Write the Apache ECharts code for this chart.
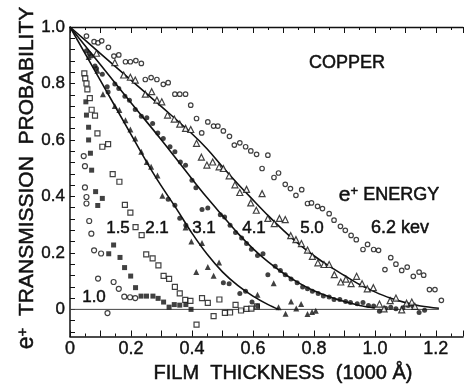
<!DOCTYPE html>
<html>
<head>
<meta charset="utf-8">
<script src="https://cdn.jsdelivr.net/npm/echarts@6/dist/echarts.min.js"></script>
<style>
  html, body { margin: 0; padding: 0; background: #fff; }
  #chart { width: 466px; height: 386px; }
</style>
</head>
<body>
<div id="chart"></div>
<script>
// Positron transmission through copper films: probability vs film thickness (1000 Å units)

const xTickLabels = [0, 0.2, 0.4, 0.6, 0.8, 1.0, 1.2];
const yTickLabels = [0, 0.2, 0.4, 0.6, 0.8, 1.0];
const yTicks = [-0.08, -0.04, 0, 0.04, 0.08, 0.12, 0.16, 0.2, 0.24, 0.28, 0.32, 0.36, 0.4,
  0.44, 0.48, 0.52, 0.56, 0.6, 0.64, 0.68, 0.72, 0.76, 0.8, 0.84, 0.88, 0.92, 0.96, 1.0];

const energyLabels = ['1.0', '1.5', '2.1', '3.1', '4.1', '5.0', '6.2 kev'];
const materialLabel = 'COPPER';
const xTitle = 'FILM  THICKNESS  (1000 Å)';
const yTitleRest = '  TRANSMISSION  PROBABILITY';

// measured points [thickness, probability]
const e10 = [[0.045,0.543],[0.049,0.507],[0.049,0.432],[0.054,0.398],[0.054,0.375],[0.063,0.313],
  [0.070,0.268],[0.079,0.209],[0.102,0.198],[0.092,0.109],[0.143,0.097],[0.160,0.073],[0.178,0.045],
  [0.197,0.043],[0.214,0.040],[0.123,-0.013]];

const e15 = [[0.052,0.735],[0.054,0.688],[0.061,0.645],[0.061,0.600],[0.067,0.553],[0.071,0.493],
  [0.084,0.417],[0.106,0.393],[0.091,0.368],[0.143,0.228],[0.127,0.197],[0.164,0.184],[0.179,0.148],
  [0.199,0.118],[0.215,0.077],[0.233,0.047],[0.251,0.047],[0.272,0.047],[0.289,0.039],[0.307,0.026],
  [0.325,0.008],[0.342,0.017],[0.360,0.015],[0.380,0.017],[0.397,0.0]];

const e21 = [[0.047,0.836],[0.050,0.818],[0.054,0.800],[0.057,0.779],[0.065,0.748],[0.071,0.707],
  [0.082,0.686],[0.090,0.623],[0.106,0.576],[0.125,0.585],[0.140,0.479],[0.162,0.452],[0.180,0.370],
  [0.198,0.343],[0.215,0.291],[0.235,0.263],[0.250,0.195],[0.271,0.181],[0.290,0.156],[0.307,0.119],
  [0.325,0.108],[0.344,0.080],[0.360,0.057],[0.378,0.034],[0.395,0.030],[0.415,-0.054],[0.433,0.040],
  [0.452,0.023],[0.471,-0.024],[0.490,0.035],[0.508,-0.012],[0.525,-0.011],[0.543,0.016],[0.561,-0.004],
  [0.579,0.002],[0.595,0.003],[0.613,0.011]];

const e31Tri = [[0.061,0.894],[0.090,0.845],[0.108,0.762],[0.147,0.720],[0.162,0.706],[0.182,0.670],
  [0.198,0.637],[0.214,0.605],[0.234,0.558],[0.252,0.522],[0.266,0.505],[0.287,0.474],[0.303,0.402],
  [0.379,0.290],[0.398,0.240],[0.433,0.235],[0.414,0.132],[0.452,0.150],[0.471,0.119],[0.489,0.166],
  [0.615,0.052],[0.668,0.093],[0.684,0.008],[0.707,-0.015],[0.725,0.028],[0.742,0.003],[0.758,0.019],
  [0.779,-0.016],[0.794,-0.009],[0.806,-0.005]];

const e31Dot = [[0.122,0.788],[0.125,0.770],[0.322,0.390],[0.344,0.369],[0.360,0.323],[0.380,0.298],
  [0.503,0.094],[0.522,0.091],[0.557,0.056],[0.576,0.064],[0.597,0.026],[0.615,0.012]];

const e41 = [[0.054,0.916],[0.063,0.906],[0.071,0.897],[0.082,0.862],[0.087,0.853],[0.106,0.833],
  [0.147,0.798],[0.160,0.782],[0.180,0.755],[0.195,0.741],[0.214,0.708],[0.234,0.684],[0.252,0.679],
  [0.271,0.658],[0.288,0.625],[0.306,0.605],[0.328,0.576],[0.344,0.558],[0.362,0.522],[0.379,0.510],
  [0.400,0.457],[0.413,0.431],[0.433,0.354],[0.452,0.359],[0.493,0.335],[0.507,0.327],[0.525,0.298],
  [0.543,0.272],[0.563,0.253],[0.579,0.233],[0.595,0.213],[0.615,0.191],[0.633,0.197],[0.649,0.123],
  [0.673,0.153],[0.690,0.138],[0.706,0.123],[0.725,0.108],[0.745,0.094],[0.763,0.079],[0.779,0.073],
  [0.795,0.064],[0.814,0.056],[0.831,0.047],[0.850,0.044],[0.866,0.035],[0.885,0.035],[0.904,0.028],
  [0.920,0.024],[0.942,0.020],[0.961,0.024],[0.979,0.014],[0.996,0.012],[1.015,-0.007],[1.035,0.004],
  [1.052,0.008],[1.069,0.002],[1.092,0.006],[1.109,0.014],[1.125,0.012],[1.145,-0.011],[1.163,-0.003]];

const e50 = [[0.087,0.907],[0.147,0.874],[0.176,0.830],[0.198,0.822],[0.214,0.812],[0.247,0.762],
  [0.268,0.771],[0.285,0.741],[0.301,0.735],[0.320,0.688],[0.342,0.674],[0.360,0.656],[0.379,0.641],
  [0.396,0.637],[0.415,0.588],[0.431,0.539],[0.449,0.511],[0.468,0.522],[0.489,0.505],[0.503,0.499],
  [0.522,0.473],[0.541,0.441],[0.557,0.414],[0.579,0.425],[0.593,0.377],[0.611,0.351],[0.630,0.410],
  [0.649,0.322],[0.670,0.304],[0.687,0.322],[0.706,0.318],[0.724,0.261],[0.741,0.247],[0.759,0.233],
  [0.779,0.210],[0.795,0.188],[0.813,0.165],[0.833,0.159],[0.850,0.159],[0.867,0.123],[0.888,0.097],
  [0.905,0.107],[0.922,0.091],[0.940,0.117],[0.958,0.091],[0.975,0.073],[0.995,0.077],[1.015,0.019],
  [1.030,0.002],[1.050,0.031],[1.069,0.040],[1.088,-0.002],[1.104,0.022],[1.121,0.026],[1.131,0.011]];

const e62 = [[0.054,0.968],[0.079,0.948],[0.092,0.944],[0.104,0.951],[0.126,0.928],[0.144,0.897],
  [0.160,0.901],[0.182,0.877],[0.198,0.877],[0.216,0.881],[0.234,0.871],[0.247,0.814],[0.266,0.821],
  [0.285,0.814],[0.306,0.797],[0.322,0.803],[0.344,0.762],[0.360,0.762],[0.379,0.762],[0.396,0.723],
  [0.415,0.676],[0.432,0.625],[0.452,0.664],[0.471,0.649],[0.485,0.649],[0.503,0.632],[0.523,0.613],
  [0.539,0.582],[0.557,0.590],[0.576,0.576],[0.593,0.561],[0.612,0.549],[0.649,0.546],[0.630,0.499],
  [0.669,0.467],[0.684,0.483],[0.706,0.443],[0.723,0.428],[0.741,0.404],[0.760,0.424],[0.779,0.375],
  [0.792,0.377],[0.812,0.365],[0.828,0.357],[0.850,0.339],[0.866,0.316],[0.887,0.294],[0.903,0.280],
  [0.922,0.262],[0.939,0.247],[0.961,0.212],[0.976,0.230],[0.996,0.212],[1.012,0.209],[1.033,0.141],
  [1.052,0.183],[1.069,0.160],[1.088,0.138],[1.106,0.150],[1.126,0.117],[1.145,0.132],[1.160,0.121],
  [1.179,0.070],[1.197,0.070],[1.218,0.032]];

// fitted transmission curves
const fit31 = [[0,1],[0.1,0.81],[0.2,0.62],[0.28,0.47],[0.35,0.355],[0.4,0.27],[0.45,0.195],
  [0.5,0.133],[0.55,0.085],[0.6,0.047],[0.65,0.017],[0.685,0.0]];
const fit41 = [[0,1],[0.1,0.866],[0.2,0.732],[0.3,0.6],[0.4,0.462],[0.45,0.395],[0.5,0.332],
  [0.55,0.27],[0.6,0.215],[0.65,0.168],[0.7,0.128],[0.75,0.094],[0.8,0.066],[0.85,0.045],
  [0.9,0.028],[0.95,0.014],[1.0,0.005]];
const fit50 = [[0,1],[0.1,0.906],[0.2,0.812],[0.3,0.718],[0.4,0.622],[0.45,0.568],[0.5,0.505],
  [0.55,0.445],[0.6,0.388],[0.65,0.332],[0.7,0.28],[0.75,0.232],[0.8,0.19],[0.85,0.153],
  [0.9,0.12],[0.95,0.088],[1.0,0.062],[1.05,0.04],[1.1,0.024],[1.15,0.012],[1.21,0.004]];

const zeroLine = [[0, 0], [1.21, 0]];

const FONT = '"Liberation Sans", Arial, Helvetica, sans-serif';
const INK = '#111';
const XMAX = 1.289;

const chart = echarts.init(document.getElementById('chart'), null, { renderer: 'canvas' });

const fmt = v => (Math.abs(v) < 1e-9 ? '0' : v.toFixed(1));

// a thin stroke of the same ink gives the lettering a heavier, inked look
const heavy = { stroke: INK, lineWidth: 0.5 };

function scatter(data, symbol, size, open) {
  return {
    type: 'scatter', data, symbol, symbolSize: size, z: 3, silent: true,
    itemStyle: open
      ? { color: '#fff', borderColor: INK, borderWidth: 1.2 }
      : { color: INK, borderColor: INK, borderWidth: 0 }
  };
}
function curve(data) {
  return {
    type: 'line', data, smooth: 0.35, symbol: 'none', z: 2, silent: true,
    lineStyle: { color: INK, width: 1.6 }
  };
}
function label(text, x, y, size) {
  return {
    type: 'text', x, y, silent: true,
    style: Object.assign({ text, fontSize: size, fontFamily: FONT, fill: INK,
      align: 'center', verticalAlign: 'middle' }, heavy)
  };
}

const axisLineStyle = { color: INK, width: 1.5 };

chart.setOption({
  animation: false,
  backgroundColor: '#fff',
  grid: { left: 70, top: 27, right: -1, bottom: 49.5 },
  xAxis: [
    {
      type: 'value', position: 'bottom', min: 0, max: XMAX, interval: 0.1,
      axisLine: { show: true, onZero: false, lineStyle: axisLineStyle },
      axisTick: { show: true, inside: true, length: 6, lineStyle: { color: INK, width: 1 } },
      minorTick: { show: true, splitNumber: 2, length: 3, lineStyle: { color: INK, width: 1 } },
      splitLine: { show: false }, minorSplitLine: { show: false },
      axisLabel: {
        margin: 4, fontSize: 18, fontFamily: FONT, color: INK,
        textBorderColor: INK, textBorderWidth: 0.4,
        formatter: v => {
          const hit = xTickLabels.find(t => Math.abs(t - v) < 1e-6);
          return hit === undefined ? '' : fmt(hit);
        }
      }
    },
    {
      type: 'value', position: 'top', min: 0, max: XMAX, interval: 0.1,
      axisLine: { show: true, onZero: false, lineStyle: { color: INK, width: 1.3 } },
      axisTick: { show: true, inside: true, length: 6, lineStyle: { color: INK, width: 1 } },
      minorTick: { show: true, splitNumber: 2, length: 3, lineStyle: { color: INK, width: 1 } },
      splitLine: { show: false }, axisLabel: { show: false }
    }
  ],
  yAxis: {
    type: 'value', min: -0.096, max: 1.0,
    axisLine: { show: true, onZero: false, lineStyle: axisLineStyle },
    axisTick: { show: true, inside: true, length: 5, customValues: yTicks, lineStyle: { color: INK, width: 1 } },
    splitLine: { show: false },
    axisLabel: {
      customValues: yTickLabels, margin: 5, fontSize: 17, fontFamily: FONT, color: INK,
      textBorderColor: INK, textBorderWidth: 0.4,
      formatter: v => fmt(v)
    }
  },
  series: [
    { type: 'line', data: zeroLine, symbol: 'none', z: 1, silent: true,
      lineStyle: { color: '#444', width: 1 } },
    curve(fit31), curve(fit41), curve(fit50),
    scatter(e10, 'circle', 5, true),
    scatter(e15, 'rect', 5, false),
    scatter(e21, 'rect', 5, true),
    scatter(e31Tri, 'triangle', 6, false),
    scatter(e31Dot, 'circle', 5, false),
    scatter(e41, 'circle', 5, false),
    scatter(e50, 'triangle', 6, true),
    scatter(e62, 'circle', 4.5, true)
  ],
  graphic: [
    label(materialLabel, 347, 63, 18),
    { type: 'text', x: 389, y: 195, silent: true,
      style: Object.assign({
        text: '{e|e}{p|+} ENERGY', fontSize: 18, fontFamily: FONT, fill: INK, align: 'center', verticalAlign: 'middle',
        rich: {
          e: Object.assign({ fontSize: 21, fontFamily: FONT, fill: INK }, heavy),
          p: Object.assign({ fontSize: 13, fontFamily: FONT, fill: INK, verticalAlign: 'top' }, heavy)
        }
      }, heavy) },
    label(energyLabels[0], 94, 297, 17),
    label(energyLabels[1], 118, 228, 17),
    label(energyLabels[2], 157, 228, 17),
    label(energyLabels[3], 204, 228, 17),
    label(energyLabels[4], 254, 228, 17),
    label(energyLabels[5], 312, 228, 17),
    label(energyLabels[6], 400, 228, 18),
    label(xTitle, 283, 373, 20),
    { type: 'text', x: 27, y: 178, rotation: Math.PI / 2, silent: true,
      style: Object.assign({
        text: '{e|e}{p|+}' + yTitleRest, fontSize: 21, fontFamily: FONT, fill: INK, align: 'center', verticalAlign: 'middle',
        rich: {
          e: Object.assign({ fontSize: 23, fontFamily: FONT, fill: INK }, heavy),
          p: Object.assign({ fontSize: 15, fontFamily: FONT, fill: INK, verticalAlign: 'top' }, heavy)
        }
      }, heavy) }
  ]
});
</script>
</body>
</html>
